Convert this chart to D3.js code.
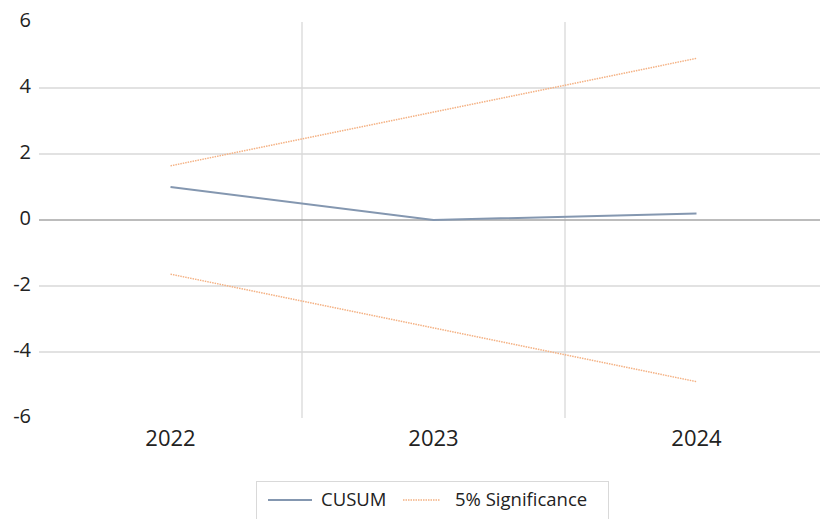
<!DOCTYPE html>
<html>
<head>
<meta charset="utf-8">
<script src="https://cdn.jsdelivr.net/npm/d3@7"></script>
<style>
  body { margin: 0; background: #fff; }
  svg { font-family: "Open Sans", "Liberation Sans", sans-serif; }
</style>
</head>
<body>
<svg width="820" height="519"></svg>
<script>
const years = ['2022', '2023', '2024']
const cusum = [1.0, 0.0, 0.2]
const upper = [1.64, 3.27, 4.9]
const lower = [-1.64, -3.27, -4.9]
const yTicks = [-6, -4, -2, 0, 2, 4, 6]
const gridTicks = [-4, -2, 2, 4]

const svg = d3.select('svg')

const x = d3.scaleBand().domain(years).range([39, 828])
const y = d3.scaleLinear().domain([-6, 6]).range([418, 22])

const cx = d => x(d) + x.bandwidth() / 2

// horizontal grid
svg.append('g')
  .selectAll('line')
  .data(gridTicks)
  .enter().append('line')
    .attr('x1', 39).attr('x2', 828)
    .attr('y1', d => y(d)).attr('y2', d => y(d))
    .attr('stroke', '#d9d9d9')
    .attr('stroke-width', 1.3)

// vertical grid between categories
svg.append('g')
  .selectAll('line')
  .data(years.slice(1))
  .enter().append('line')
    .attr('x1', d => x(d)).attr('x2', d => x(d))
    .attr('y1', y(6)).attr('y2', y(-6))
    .attr('stroke', '#d9d9d9')
    .attr('stroke-width', 1.3)

// zero axis
svg.append('line')
  .attr('x1', 39).attr('x2', 828)
  .attr('y1', y(0)).attr('y2', y(0))
  .attr('stroke', '#a6a6a6')
  .attr('stroke-width', 1.3)

// y labels
svg.append('g')
  .selectAll('text')
  .data(yTicks)
  .enter().append('text')
    .attr('x', 31)
    .attr('y', d => y(d) - 2)
    .attr('dy', '0.35em')
    .attr('text-anchor', 'end')
    .attr('font-size', 20)
    .attr('fill', '#222')
    .text(d => d)

// x labels
svg.append('g')
  .selectAll('text')
  .data(years)
  .enter().append('text')
    .attr('x', cx)
    .attr('y', 438)
    .attr('dy', '0.35em')
    .attr('text-anchor', 'middle')
    .attr('font-size', 22)
    .attr('fill', '#222')
    .text(d => d)

const line = d3.line().x((d, i) => cx(years[i])).y(d => y(d))

for (const s of [upper, lower]) {
  svg.append('path')
    .datum(s)
    .attr('d', line)
    .attr('fill', 'none')
    .attr('stroke', '#f4b183')
    .attr('stroke-width', 1.5)
    .attr('stroke-dasharray', '1.5 1')
}

svg.append('path')
  .datum(cusum)
  .attr('d', line)
  .attr('fill', 'none')
  .attr('stroke', '#8497b0')
  .attr('stroke-width', 2)

// legend
const legend = svg.append('g')
legend.append('rect')
  .attr('x', 256.5).attr('y', 481.5)
  .attr('width', 352).attr('height', 40)
  .attr('fill', '#fff')
  .attr('stroke', '#d9d9d9')
  .attr('stroke-width', 1)

legend.append('line')
  .attr('x1', 268).attr('x2', 312).attr('y1', 500).attr('y2', 500)
  .attr('stroke', '#8497b0').attr('stroke-width', 2)
legend.append('text')
  .attr('x', 321).attr('y', 500).attr('dy', '0.35em')
  .attr('font-size', 18.5).attr('fill', '#222')
  .text('CUSUM')

legend.append('line')
  .attr('x1', 403).attr('x2', 440).attr('y1', 500).attr('y2', 500)
  .attr('stroke', '#f4b183').attr('stroke-width', 1.5)
  .attr('stroke-dasharray', '1.5 1')
legend.append('text')
  .attr('x', 455).attr('y', 500).attr('dy', '0.35em')
  .attr('font-size', 18.5).attr('fill', '#222')
  .text('5% Significance')
</script>
</body>
</html>
